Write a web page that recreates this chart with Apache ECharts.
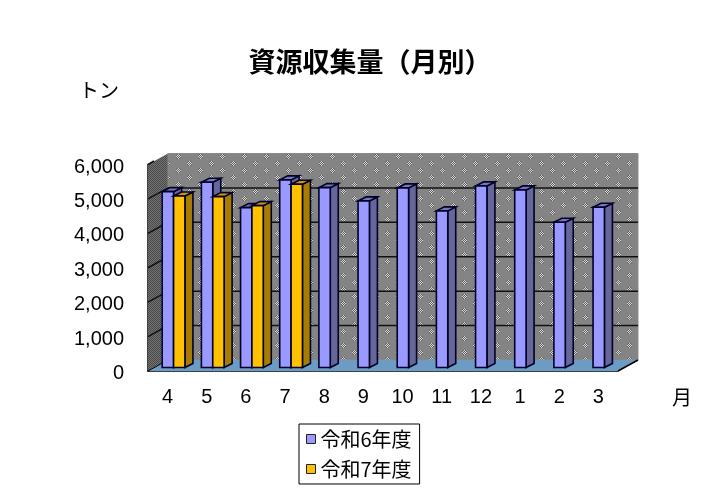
<!DOCTYPE html>
<html><head><meta charset="utf-8">
<style>html,body{margin:0;padding:0;background:#fff}#c{width:717px;height:500px}</style>
<script src="https://cdn.jsdelivr.net/npm/echarts@6/dist/echarts.min.js"></script>
</head><body><div id="c"></div>
<script>
const months = ['4','5','6','7','8','9','10','11','12','1','2','3'];
const reiwa6 = [5110,5384,4645,5451,5227,4840,5218,4550,5276,5160,4221,4657];
const reiwa7 = [4985,4965,4703,5326];
const yTicks = [0,1000,2000,3000,4000,5000,6000];

const DEPTH_X = 20, DEPTH_Y = 11, BAR_DX = 8, BAR_DY = 4;
function backPattern() {
  const cv = document.createElement('canvas');
  cv.width = 22; cv.height = 14;
  const g = cv.getContext('2d');
  g.fillStyle = '#848484'; g.fillRect(0,0,22,14);
  [[0,0],[11,7]].forEach(([ox,oy]) => {
    for (let dy=0;dy<5;dy++) for (let dx=0;dx<5;dx++) {
      if (Math.abs(dx-2)+Math.abs(dy-2) > 3) continue;
      g.fillStyle = (dx+dy)%2===0 ? '#d8d8d8' : '#606060';
      g.fillRect(ox+dx,oy+dy,1,1);
    }
  });
  return cv;
}
function sidePattern() {
  const cv = document.createElement('canvas');
  cv.width = cv.height = 4;
  const g = cv.getContext('2d');
  for (let y=0;y<4;y++) for (let x=0;x<4;x++) {
    g.fillStyle = (x+y)%2===0 ? '#484848' : '#747474';
    g.fillRect(x,y,1,1);
  }
  return cv;
}
const backFill = {image: backPattern(), repeat:'repeat'};
const sideFill = {image: sidePattern(), repeat:'repeat'};

function poly(points, fill, stroke, lw) {
  return {type:'polygon', shape:{points}, style:{fill, stroke, lineWidth:lw}};
}
function renderWalls(params, api) {
  const cs = params.coordSys;
  const l = cs.x, r = cs.x + cs.width, t = cs.y, b = cs.y + cs.height;
  const kids = [
    poly([[l,t],[l+DEPTH_X,t-DEPTH_Y],[l+DEPTH_X,b-DEPTH_Y],[l,b]], sideFill, null, 0),
    poly([[l+DEPTH_X,t-DEPTH_Y],[r+DEPTH_X,t-DEPTH_Y],[r+DEPTH_X,b-DEPTH_Y],[l+DEPTH_X,b-DEPTH_Y]], backFill, '#8a8a8a', 1),
    poly([[l,b],[l+DEPTH_X,b-DEPTH_Y],[r+DEPTH_X,b-DEPTH_Y],[r,b]], '#6c9cc4', null, 0)
  ];
  yTicks.forEach(v => {
    const y = api.coord([0,v])[1];
    if (v > 0 && v < 6000) kids.push({type:'polyline', shape:{points:[[l,y],[l+DEPTH_X,y-DEPTH_Y],[r+DEPTH_X,y-DEPTH_Y]]}, style:{fill:null, stroke:'#111', lineWidth:1.5}});
  });
  const yTop = api.coord([0,6000])[1];
  kids.push({type:'line', shape:{x1:l,y1:yTop,x2:l+6,y2:yTop-3.5}, style:{stroke:'#111',lineWidth:1.5}});
  kids.push({type:'line', shape:{x1:r,y1:b,x2:r+DEPTH_X,y2:b-DEPTH_Y}, style:{stroke:'#000',lineWidth:1.5}});
  kids.push({type:'line', shape:{x1:l,y1:b,x2:l+DEPTH_X,y2:b-DEPTH_Y}, style:{stroke:'#000',lineWidth:1}});
  return {type:'group', children:kids};
}
function bar3d(front, side, top, slot) {
  return function(params, api) {
    const cat = api.value(0), val = api.value(1);
    const p0 = api.coord([cat, 0]), p1 = api.coord([cat, val]);
    const band = api.size([1,0])[0];
    const w = band * 0.29;
    const fx = (DEPTH_X - BAR_DX) / 2, fy = (DEPTH_Y - BAR_DY) / 2;
    const x0 = p0[0] + fx + (slot - 1) * w, x1 = x0 + w;
    const yb = p0[1] - fy, yt = p1[1] - fy;
    const s = '#000028';
    return {type:'group', children:[
      poly([[x1,yb],[x1+BAR_DX,yb-BAR_DY],[x1+BAR_DX,yt-BAR_DY],[x1,yt]], side, s, 1.6),
      poly([[x0,yt],[x0+BAR_DX,yt-BAR_DY],[x1+BAR_DX,yt-BAR_DY],[x1,yt]], top, s, 1.6),
      poly([[x0,yb],[x1,yb],[x1,yt],[x0,yt]], front, s, 1.6)
    ]};
  };
}
const BLUE = '#9999ff', ORANGE = '#ffc000';
const font = '"Liberation Sans","Noto Sans CJK JP",sans-serif';
const chart = echarts.init(document.getElementById('c'), null, {renderer:'canvas'});
chart.setOption({
  animation:false,
  backgroundColor:'#ffffff',
  title:[
    {text:'資源収集量（月別）', left:365, top:43, textAlign:'center',
      textStyle:{fontFamily:'"Noto Sans CJK JP"',fontSize:27,fontWeight:'bold',color:'#000'}},
    {text:'トン', left:74, top:75, textStyle:{fontFamily:'"Noto Sans CJK JP"',fontSize:20,fontWeight:'normal',color:'#000'}},
    {text:'月', left:667, top:382, textStyle:{fontFamily:'"Noto Sans CJK JP"',fontSize:20,fontWeight:'normal',color:'#000'}}
  ],
  grid:{left:148, right:99, top:164.5, bottom:129},
  xAxis:{type:'category', data:months, boundaryGap:true,
    axisLine:{show:true,lineStyle:{color:'#000',width:1.5}},
    axisTick:{show:true,inside:true,length:5,alignWithLabel:false,lineStyle:{color:'#000'}},
    axisLabel:{fontFamily:font,fontSize:20,color:'#000',margin:16},
    splitLine:{show:false}},
  yAxis:{type:'value', min:0, max:6000, interval:1000,
    axisLine:{show:true,lineStyle:{color:'#000',width:1.5}},
    axisTick:{show:false},
    axisLabel:{color:'#000',margin:24,
      formatter:v=>'{n|'+v.toLocaleString('en-US')+'}',
      rich:{n:{fontFamily:font,fontSize:20,color:'#000',padding:[5,0,0,0]}}},
    splitLine:{show:false}},
  legend:{show:true, orient:'vertical', left:299, top:424, itemWidth:9, itemHeight:9, itemGap:10,
    padding:[5,8,5,7], borderColor:'#000', borderWidth:1, backgroundColor:'#fff',
    textStyle:{fontFamily:'"Noto Sans CJK JP"',fontSize:20,color:'#000'},
    data:[{name:'令和6年度',icon:'rect',itemStyle:{color:BLUE,borderColor:'#222',borderWidth:1}},
          {name:'令和7年度',icon:'rect',itemStyle:{color:ORANGE,borderColor:'#222',borderWidth:1}}]},
  series:[
    {type:'custom', name:'walls', silent:true, z:1, renderItem:renderWalls, data:[[0,0]], clip:false},
    {type:'custom', name:'令和6年度', z:3, clip:false, itemStyle:{color:BLUE},
      renderItem:bar3d(BLUE,'#666699','#7777bb',0), data:reiwa6.map((v,i)=>[i,v])},
    {type:'custom', name:'令和7年度', z:4, clip:false, itemStyle:{color:ORANGE},
      renderItem:bar3d(ORANGE,'#a87c00','#cc9a00',1), data:reiwa7.map((v,i)=>[i,v])}
  ]
});
</script></body></html>
